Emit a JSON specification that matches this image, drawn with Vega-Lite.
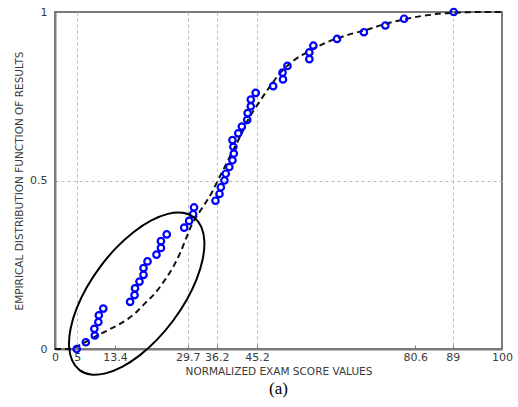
{
  "$schema": "https://vega.github.io/schema/vega-lite/v6.json",
  "width": 447,
  "height": 337,
  "autosize": {"type": "none"},
  "padding": {"left": 55, "top": 12, "right": 16, "bottom": 58},
  "background": "white",
  "config": {
    "view": {"stroke": "#7a7a7a", "strokeWidth": 2},
    "font": "DejaVu Sans",
    "axis": {
      "domainColor": "#7a7a7a",
      "domainWidth": 2,
      "tickColor": "#7a7a7a",
      "labelColor": "#3a3a3a",
      "titleColor": "#3a3a3a",
      "labelFont": "DejaVu Sans",
      "titleFont": "DejaVu Sans",
      "labelFontSize": 11,
      "titleFontSize": 10.5,
      "titleFontWeight": "normal",
      "gridColor": "#b8b8b8",
      "gridDash": [3, 3],
      "gridWidth": 1
    }
  },
  "title": {
    "text": "(a)",
    "orient": "bottom",
    "font": "Liberation Serif",
    "fontSize": 17,
    "fontWeight": "normal",
    "color": "#000000",
    "offset": 2
  },
  "datasets": {
    "pts": [
      {"x": 4.85, "y": 0}, {"x": 6.9, "y": 0.02}, {"x": 8.9, "y": 0.04}, {"x": 8.8, "y": 0.06},
      {"x": 9.7, "y": 0.08}, {"x": 9.8, "y": 0.10}, {"x": 10.8, "y": 0.12}, {"x": 16.8, "y": 0.14},
      {"x": 17.8, "y": 0.16}, {"x": 17.9, "y": 0.18}, {"x": 18.9, "y": 0.20}, {"x": 19.8, "y": 0.22},
      {"x": 19.8, "y": 0.24}, {"x": 20.7, "y": 0.26}, {"x": 22.7, "y": 0.28}, {"x": 23.7, "y": 0.30},
      {"x": 23.7, "y": 0.32}, {"x": 25.0, "y": 0.34}, {"x": 28.9, "y": 0.36}, {"x": 30.0, "y": 0.38},
      {"x": 30.9, "y": 0.40}, {"x": 31.1, "y": 0.42}, {"x": 35.9, "y": 0.44}, {"x": 36.8, "y": 0.46},
      {"x": 37.1, "y": 0.48}, {"x": 37.9, "y": 0.50}, {"x": 38.2, "y": 0.52}, {"x": 39.0, "y": 0.54},
      {"x": 39.7, "y": 0.56}, {"x": 40.0, "y": 0.58}, {"x": 39.9, "y": 0.60}, {"x": 39.7, "y": 0.62},
      {"x": 41.0, "y": 0.64}, {"x": 41.8, "y": 0.66}, {"x": 43.0, "y": 0.68}, {"x": 43.1, "y": 0.70},
      {"x": 43.8, "y": 0.72}, {"x": 43.8, "y": 0.74}, {"x": 44.9, "y": 0.76}, {"x": 48.8, "y": 0.78},
      {"x": 51.0, "y": 0.80}, {"x": 50.9, "y": 0.82}, {"x": 52.0, "y": 0.84}, {"x": 56.9, "y": 0.86},
      {"x": 56.9, "y": 0.88}, {"x": 57.8, "y": 0.90}, {"x": 63.1, "y": 0.92}, {"x": 69.1, "y": 0.94},
      {"x": 73.9, "y": 0.96}, {"x": 78.1, "y": 0.98}, {"x": 89.2, "y": 1.0}
    ],
    "curve": [
      {"x": 0, "y": 0}, {"x": 3, "y": 0}, {"x": 5, "y": 0.008}, {"x": 7, "y": 0.022},
      {"x": 9, "y": 0.037}, {"x": 12, "y": 0.057}, {"x": 15, "y": 0.078}, {"x": 18, "y": 0.107},
      {"x": 20, "y": 0.134}, {"x": 22.4, "y": 0.166}, {"x": 24.6, "y": 0.205}, {"x": 26.5, "y": 0.245},
      {"x": 28, "y": 0.285}, {"x": 29.5, "y": 0.334}, {"x": 30.6, "y": 0.369}, {"x": 32, "y": 0.40},
      {"x": 33.5, "y": 0.43}, {"x": 35, "y": 0.462}, {"x": 36.5, "y": 0.502}, {"x": 38, "y": 0.541},
      {"x": 39.5, "y": 0.581}, {"x": 41.4, "y": 0.63}, {"x": 43.2, "y": 0.68}, {"x": 45.5, "y": 0.729},
      {"x": 48.1, "y": 0.779}, {"x": 50.3, "y": 0.818}, {"x": 53.3, "y": 0.855}, {"x": 57, "y": 0.885},
      {"x": 60.8, "y": 0.91}, {"x": 65, "y": 0.93}, {"x": 69.7, "y": 0.947}, {"x": 74, "y": 0.965},
      {"x": 78.7, "y": 0.98}, {"x": 83, "y": 0.99}, {"x": 87, "y": 0.996}, {"x": 92, "y": 0.999},
      {"x": 96, "y": 1.0}, {"x": 100, "y": 1.0}
    ],
    "ellipse": [
      {"i": 1, "x": 31.05, "y": 0.391}, {"i": 2, "x": 32.73, "y": 0.3625}, {"i": 3, "x": 33.41, "y": 0.3204},
      {"i": 4, "x": 33.06, "y": 0.2677}, {"i": 5, "x": 31.71, "y": 0.208}, {"i": 6, "x": 29.45, "y": 0.1452},
      {"i": 7, "x": 26.41, "y": 0.0838}, {"i": 8, "x": 22.83, "y": 0.0277}, {"i": 9, "x": 18.94, "y": -0.0189},
      {"i": 10, "x": 15.0, "y": -0.053}, {"i": 11, "x": 11.28, "y": -0.0724}, {"i": 12, "x": 8.04, "y": -0.0757},
      {"i": 13, "x": 5.5, "y": -0.0626}, {"i": 14, "x": 3.83, "y": -0.034}, {"i": 15, "x": 3.14, "y": 0.0081},
      {"i": 16, "x": 3.49, "y": 0.0608}, {"i": 17, "x": 4.84, "y": 0.1205}, {"i": 18, "x": 7.11, "y": 0.1833},
      {"i": 19, "x": 10.14, "y": 0.2447}, {"i": 20, "x": 13.73, "y": 0.3007}, {"i": 21, "x": 17.62, "y": 0.3473},
      {"i": 22, "x": 21.56, "y": 0.3815}, {"i": 23, "x": 25.27, "y": 0.4009}, {"i": 24, "x": 28.51, "y": 0.4042}
    ]
  },
  "layer": [
    {
      "data": {"name": "curve"},
      "mark": {"type": "line", "color": "#111111", "strokeWidth": 2, "strokeDash": [6, 4], "interpolate": "monotone"},
      "encoding": {
        "x": {
          "field": "x", "type": "quantitative",
          "scale": {"domain": [0, 100], "nice": false},
          "axis": {
            "values": [0, 5, 13.4, 29.7, 36.2, 45.2, 80.6, 89, 100],
            "format": ".4~g",
            "title": "NORMALIZED EXAM SCORE VALUES",
            "grid": true,
            "gridOpacity": {"condition": {"test": "datum.value == 13.4 || datum.value == 80.6 || datum.value == 0 || datum.value == 100", "value": 0}, "value": 1},
            "ticks": true,
            "tickSize": -4,
            "labelPadding": 6,
            "labelFlush": false,
            "labelOverlap": false,
            "titlePadding": 4
          }
        },
        "y": {
          "field": "y", "type": "quantitative",
          "scale": {"domain": [0, 1], "nice": false},
          "axis": {
            "values": [0, 0.5, 1],
            "format": ".4~g",
            "title": "EMPIRICAL DISTRIBUTION FUNCTION OF RESULTS",
            "grid": true,
            "gridOpacity": {"condition": {"test": "datum.value == 0 || datum.value == 1", "value": 0}, "value": 1},
            "tickSize": 0,
            "labelPadding": 8,
            "labelFlush": false,
            "titlePadding": 5
          }
        }
      }
    },
    {
      "data": {"name": "pts"},
      "mark": {"type": "point", "shape": "circle", "filled": false, "color": "#0000ff", "strokeWidth": 2.2, "size": 42, "opacity": 1},
      "encoding": {
        "x": {"field": "x", "type": "quantitative"},
        "y": {"field": "y", "type": "quantitative"}
      }
    },
    {
      "data": {"name": "ellipse"},
      "mark": {"type": "line", "color": "#000000", "strokeWidth": 2, "interpolate": "cardinal-closed", "clip": false},
      "encoding": {
        "x": {"field": "x", "type": "quantitative"},
        "y": {"field": "y", "type": "quantitative"},
        "order": {"field": "i", "type": "quantitative"}
      }
    }
  ]
}
